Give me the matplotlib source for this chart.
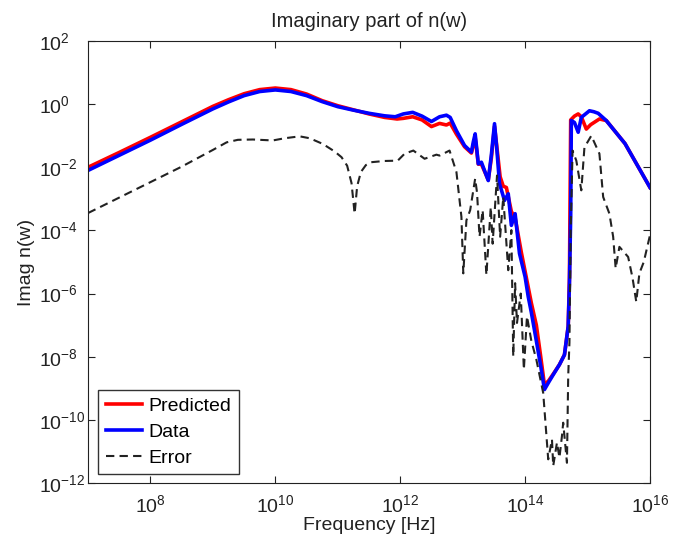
import matplotlib
matplotlib.use("Agg")
import matplotlib.pyplot as plt
import numpy as np

plt.rcParams['font.family'] = ['Liberation Sans', 'DejaVu Sans']
plt.rcParams['mathtext.fontset'] = 'custom'
plt.rcParams['mathtext.rm'] = 'Liberation Sans'

# values as log10(frequency), log10(Imag n)
data_lx = [7.0, 7.5, 8.0, 8.5, 9.0, 9.25, 9.5, 9.75, 10.0, 10.25, 10.5, 10.75, 11.0, 11.25,
           11.5, 11.75, 11.92, 12.05, 12.2, 12.35, 12.5, 12.63, 12.74, 12.8, 12.9, 13.03,
           13.14, 13.17, 13.2, 13.23, 13.25, 13.3, 13.41, 13.46, 13.51, 13.55, 13.59, 13.67,
           13.73, 13.78, 13.84, 13.91, 14.0, 14.05, 14.1, 14.18, 14.25, 14.31, 14.38, 14.45,
           14.55, 14.63, 14.69, 14.71, 14.73, 14.74, 14.79, 14.85, 14.9, 15.03, 15.1, 15.17,
           15.3, 15.6, 16.0]
data_ly = [-2.10, -1.62, -1.14, -0.64, -0.15, 0.07, 0.27, 0.40, 0.45, 0.40, 0.27, 0.08, -0.08, -0.19,
           -0.29, -0.37, -0.40, -0.31, -0.26, -0.38, -0.55, -0.40, -0.35, -0.42, -0.84, -1.31,
           -1.52, -1.2, -0.94, -1.5, -1.89, -1.84, -2.42, -1.6, -0.62, -1.5, -2.52, -3.05,
           -2.84, -3.84, -3.47, -4.73, -5.47, -6.1, -6.6, -7.5, -8.3, -9.04, -8.8, -8.57,
           -8.25, -7.94, -7.04, -5.67, -3.5, -0.52, -0.58, -0.89, -0.42, -0.21, -0.24, -0.29,
           -0.52, -1.25, -2.64]

pred_lx = [7.0, 7.5, 8.0, 8.5, 9.0, 9.25, 9.5, 9.75, 10.0, 10.25, 10.5, 10.75, 11.0, 11.25,
           11.5, 11.75, 11.95, 12.05, 12.2, 12.35, 12.5, 12.63, 12.74, 12.8, 12.9, 13.03,
           13.14, 13.17, 13.2, 13.23, 13.25, 13.3, 13.41, 13.46, 13.51, 13.55, 13.6, 13.65,
           13.7, 13.78, 13.84, 13.94, 14.02, 14.1, 14.18, 14.25, 14.31, 14.38, 14.45, 14.55,
           14.63, 14.69, 14.71, 14.72, 14.73, 14.79, 14.85, 14.9, 14.98, 15.05, 15.19, 15.3,
           15.6, 16.0]
pred_ly = [-2.0, -1.53, -1.05, -0.56, -0.07, 0.14, 0.33, 0.46, 0.51, 0.46, 0.32, 0.11, -0.05, -0.18,
           -0.31, -0.42, -0.47, -0.45, -0.40, -0.5, -0.71, -0.61, -0.66, -0.6, -0.95, -1.35,
           -1.55, -1.3, -1.05, -1.55, -1.9, -1.9, -2.4, -1.7, -0.7, -1.4, -2.3, -2.6,
           -2.64, -3.4, -3.6, -4.7, -5.5, -6.3, -7.0, -8.0, -8.9, -8.75, -8.55, -8.25,
           -7.94, -7.04, -5.5, -3.0, -0.5, -0.38, -0.31, -0.4, -0.79, -0.65, -0.47, -0.52,
           -1.25, -2.64]

err_lx = [7.0, 7.5, 8.0, 8.5, 9.0, 9.22, 9.4, 9.64, 9.96, 10.15, 10.39, 10.55, 10.76, 10.95,
          11.06, 11.15, 11.22, 11.27, 11.31, 11.37, 11.45, 11.53, 11.75, 11.96, 12.07, 12.21,
          12.39, 12.58, 12.63, 12.79, 12.9, 12.98, 13.01, 13.06, 13.12, 13.2, 13.23, 13.27,
          13.32, 13.38, 13.45, 13.48, 13.55, 13.6, 13.65, 13.73, 13.78, 13.81, 13.84, 13.87,
          13.93, 13.98, 14.03, 14.1, 14.18, 14.29, 14.37, 14.43, 14.45, 14.51, 14.55, 14.59,
          14.61, 14.67, 14.69, 14.71, 14.73, 14.76, 14.82, 14.9, 14.95, 15.06, 15.19, 15.25,
          15.35, 15.41, 15.45, 15.51, 15.65, 15.72, 15.78, 15.83, 15.9, 16.0]
err_ly = [-3.45, -2.96, -2.47, -1.98, -1.45, -1.21, -1.13, -1.12, -1.15, -1.08, -1.02, -1.08, -1.26, -1.5,
          -1.68, -1.95, -2.5, -3.47, -2.6, -2.15, -1.93, -1.84, -1.8, -1.79, -1.57, -1.47,
          -1.73, -1.6, -1.63, -1.47, -2.15, -3.57, -5.36, -3.68, -3.36, -2.36, -2.8, -4.2,
          -3.36, -5.41, -3.26, -4.42, -2.26, -4.2, -2.94, -5.26, -3.99, -7.99, -5.67, -6.93,
          -6.0, -8.41, -6.72, -7.5, -8.09, -9.15, -11.25, -10.62, -11.46, -10.72, -11.2, -10.51,
          -10.09, -11.36, -8.62, -7.55, -4.0, -1.47, -1.79, -2.73, -1.37, -1.0, -1.57, -2.94,
          -3.47, -4.2, -5.2, -4.52, -4.84, -5.5, -6.26, -5.36, -5.0, -4.15]

fig = plt.figure(figsize=(6.82, 5.4), dpi=100)
ax = fig.add_axes([88/682, 1-483/540, 562/682, 442/540])

ax.loglog(10**np.array(pred_lx), 10**np.array(pred_ly), color='red', lw=2.6, label='Predicted')
ax.loglog(10**np.array(data_lx), 10**np.array(data_ly), color='blue', lw=2.6, label='Data')
ax.loglog(10**np.array(err_lx), 10**np.array(err_ly), color='#222222', lw=1.5,
          dashes=(4, 2.5), label='Error')

ax.set_xlim(1e7, 1e16)
ax.set_ylim(1e-12, 1e2)
ax.set_xticks([1e8, 1e10, 1e12, 1e14, 1e16])
ax.set_yticks([10.0**k for k in range(-12, 3, 2)])
ax.minorticks_off()
ax.tick_params(direction='in', top=True, right=True, labelsize=14, length=5, width=0.8,
               colors='#222222')
ax.tick_params(axis='x', pad=8)
ax.tick_params(axis='y', pad=35)
for lab in ax.get_yticklabels():
    lab.set_horizontalalignment('left')
for s in ax.spines.values():
    s.set_linewidth(0.8)
    s.set_color('#222222')

ax.set_title('Imaginary part of n(w)', fontsize=14.5, color='#222222', pad=10)
ax.set_xlabel('Frequency [Hz]', fontsize=14, color='#222222', va='top')
ax.set_ylabel('Imag n(w)', fontsize=14, color='#222222')
ax.xaxis.set_label_coords(0.5, -0.077)
ax.yaxis.set_label_coords(-0.095, 0.5)

leg = ax.legend(loc='lower left', fontsize=14, fancybox=False, edgecolor='black',
                handlelength=1.9, handletextpad=0.3, borderpad=0.38, labelspacing=0.42,
                borderaxespad=0, bbox_to_anchor=(0.018, 0.02))
leg.get_frame().set_linewidth(1.0)

fig.savefig('out.png', dpi=100)
